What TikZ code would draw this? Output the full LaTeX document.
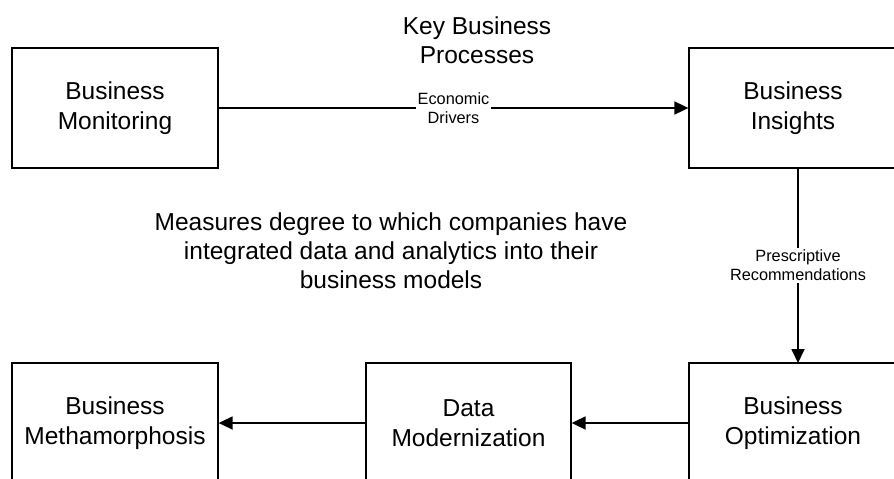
\documentclass[tikz,border=0pt]{standalone}
\usepackage{fontspec}
\setmainfont{Liberation Sans}
\usetikzlibrary{arrows.meta}
\begin{document}
\begin{tikzpicture}[x=1pt,y=-1pt,
  box/.style={draw, line width=1.3pt, minimum width=206pt, minimum height=120pt,
    inner sep=0pt, align=center, font=\fontsize{24.5}{29.5}\selectfont},
  bigtext/.style={align=center, font=\fontsize{24.5}{29}\selectfont, inner sep=0pt},
  lbl/.style={fill=white, align=center, inner sep=2pt, font=\fontsize{16.3}{19}\selectfont},
  conn/.style={line width=1.8pt, -{Triangle[length=14pt,width=13pt]}}]
\useasboundingbox[fill=white] (0,0) rectangle (894,479);
\node[box] (mon) at (115,108) {Business\\Monitoring};
\node[box, minimum width=208pt] (ins) at (793,108) {Business\\Insights};
\node[box, minimum width=208pt] (opt) at (793,423) {Business\\Optimization};
\node[box, minimum width=205pt] (mod) at (468.5,423) {Data\\Modernization};
\node[box] (met) at (115,423) {Business\\Methamorphosis};
\node[bigtext] (title) at (477,40) {Key Business\\Processes};
\node[bigtext] (desc) at (391,251) {Measures degree to which companies have\\integrated data and analytics into their\\business models};
\coordinate (insb) at (798,168);
\coordinate (optt) at (798,363);
\draw[conn] (mon.east) -- node[lbl] {Economic\\Drivers} (ins.west);
\draw[conn] (insb) -- node[lbl] {Prescriptive\\Recommendations} (optt);
\draw[conn] (opt.west) -- (mod.east);
\draw[conn] (mod.west) -- (met.east);
\end{tikzpicture}
\end{document}
